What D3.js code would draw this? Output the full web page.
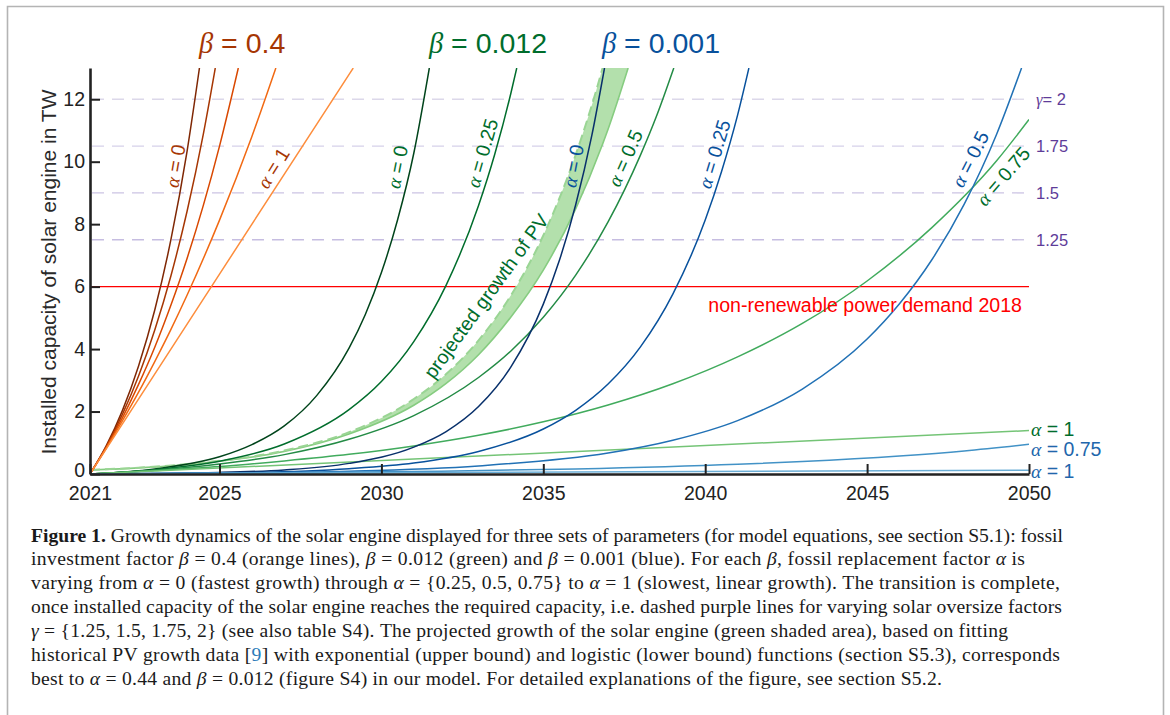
<!DOCTYPE html>
<html>
<head>
<meta charset="utf-8">
<title>Solar engine growth</title>
<script src="https://cdn.jsdelivr.net/npm/d3@7"></script>
<style>
  body { margin: 0; background: #fff; }
  svg text { font-family: "Liberation Sans", Arial, sans-serif; }
  .greek { font-family: "Liberation Serif", "DejaVu Serif", serif; font-style: italic; }
  .caption text { font-family: "Liberation Serif", "Times New Roman", serif; fill: #1a1a1a; }
</style>
</head>
<body>
<div id="vis"></div>
<script>
// curves: [year, installed capacity in TW]
// beta = 0.4 (orange)
const b04a0   = [[2021,0],[2021.5,0.90],[2022,2.03],[2022.5,3.46],[2023,5.25],[2023.5,7.51],[2024,10.35],[2024.38,13]];
const b04a025 = [[2021,0],[2021.5,0.87],[2022,1.91],[2022.5,3.14],[2023,4.61],[2023.5,6.35],[2024,8.42],[2024.5,10.88],[2024.87,13]];
const b04a05  = [[2021,0],[2021.5,0.85],[2022,1.80],[2022.5,2.87],[2023,4.06],[2023.5,5.41],[2024,6.91],[2024.5,8.60],[2025,10.50],[2025.58,13]];
const b04a075 = [[2021,0],[2021.5,0.82],[2022,1.70],[2022.5,2.62],[2023,3.60],[2023.5,4.63],[2024,5.73],[2025,8.13],[2026,10.81],[2026.74,13]];
const b04a1   = [[2021,0],[2025,6.4],[2029.13,13]];
// beta = 0.012 (green)
const b012a0   = [[2021,0],[2023,0.16],[2025,0.55],[2026,0.94],[2027,1.54],[2028,2.51],[2029,4.03],[2029.5,5.10],[2030,6.45],[2030.5,8.14],[2031,10.27],[2031.48,13]];
const b012a025 = [[2021,0],[2023,0.14],[2025,0.41],[2027,0.96],[2029,2.06],[2030,2.96],[2031,4.24],[2032,6.05],[2033,8.60],[2033.5,10.24],[2034,12.20],[2034.18,13]];
const b012a05  = [[2021,0],[2023,0.12],[2025,0.32],[2027,0.62],[2029,1.11],[2031,1.87],[2033,3.09],[2034,3.94],[2035,5.02],[2036,6.37],[2037,8.07],[2038,10.21],[2038.5,11.47],[2039.03,13]];
const b012a075 = [[2021,0],[2023,0.11],[2025,0.24],[2027,0.42],[2029,0.63],[2031,0.90],[2033,1.24],[2035,1.67],[2037,2.21],[2039,2.89],[2041,3.75],[2043,4.82],[2045,6.18],[2047,7.89],[2049,10.03],[2050,11.35]];
const b012a1   = [[2021,0],[2050,1.39]];
// beta = 0.001 (blue)
const b001a0   = [[2021,0],[2025,0.05],[2027,0.13],[2029,0.34],[2031,0.86],[2032,1.36],[2033,2.16],[2034,3.43],[2035,5.44],[2035.5,6.85],[2036,8.62],[2036.5,10.85],[2036.89,13]];
const b001a025 = [[2021,0],[2025,0.03],[2029,0.17],[2031,0.35],[2033,0.72],[2035,1.44],[2036,2.04],[2037,2.88],[2038,4.07],[2039,5.76],[2040,8.13],[2040.5,9.67],[2041,11.49],[2041.35,13]];
const b001a05  = [[2021,0],[2025,0.03],[2029,0.09],[2033,0.26],[2037,0.67],[2039,1.08],[2041,1.71],[2043,2.72],[2045,4.32],[2046,5.45],[2047,6.86],[2048,8.64],[2049,10.88],[2049.77,13]];
const b001a075 = [[2021,0],[2026,0.03],[2031,0.08],[2036,0.16],[2041,0.31],[2043,0.40],[2046,0.58],[2048,0.74],[2050,0.95]];
const b001a1   = [[2021,0],[2050,0.12]];

// projected PV growth band
const pvYears = [2021, 2024, 2027, 2029, 2031, 2032, 2033, 2034, 2035, 2036, 2036.83, 2037, 2037.62];
const pvUpper = [0.13, 0.32, 0.75, 1.34, 2.40, 3.20, 4.28, 5.72, 7.64, 10.22, 13, 13.66, 16.31];
const pvLower = [0.13, 0.30, 0.72, 1.28, 2.20, 2.90, 3.82, 5.03, 6.53, 8.49, 10.56, 11.04, 13];

// required capacity levels (gamma) and demand
const gammaLabels = ["2", "1.75", "1.5", "1.25"];
const gammaLevels = [12, 10.5, 9, 7.5];
const demand2018 = 6;

const xTicks = [2021, 2025, 2030, 2035, 2040, 2045, 2050];
const yTicks = [0, 2, 4, 6, 8, 10, 12];

const width = 1170, height = 715;
const svg = d3.select('#vis').append('svg').attr('width', width).attr('height', height);
svg.append('rect').attr('width', width).attr('height', height).attr('fill', '#fff');

// frame around figure
svg.append('path').attr('d', 'M7.5,715V6.5H1163.5V715').attr('fill', 'none')
  .attr('stroke', '#b4b4b4').attr('stroke-width', 1.6);

const x = d3.scaleLinear().domain([2021, 2050]).range([90, 1029]);
const y = d3.scaleLinear().domain([0, 13]).range([474, 68]);

svg.append('clipPath').attr('id', 'plot').append('rect')
  .attr('x', 90).attr('y', 68).attr('width', 939).attr('height', 406);

// gamma dashed lines
const gammaColors = ['#dcd8ea', '#d6d1ea', '#cbc3e4', '#c6bde1'];
svg.append('g').selectAll('line').data(gammaLevels).join('line')
  .attr('x1', x(2021) + 2).attr('x2', x(2050))
  .attr('y1', d => y(d)).attr('y2', d => y(d))
  .attr('stroke', (d, i) => gammaColors[i]).attr('stroke-width', 1.3)
  .attr('stroke-dasharray', '12,8');

// demand line
svg.append('line').attr('x1', x(2021)).attr('x2', x(2050))
  .attr('y1', y(demand2018)).attr('y2', y(demand2018))
  .attr('stroke', '#ff0000').attr('stroke-width', 1.4);

// projected band
const band = pvYears.map((yr, i) => ({ yr: yr, lo: pvLower[i], hi: pvUpper[i] }));
const plot = svg.append('g').attr('clip-path', 'url(#plot)');
plot.append('path').datum(band)
  .attr('d', d3.area().x(d => x(d.yr)).y0(d => y(d.lo)).y1(d => y(d.hi)).curve(d3.curveMonotoneX))
  .attr('fill', '#b3e0ac');
plot.append('path').datum(band)
  .attr('d', d3.line().x(d => x(d.yr)).y(d => y(d.lo)).curve(d3.curveMonotoneX))
  .attr('fill', 'none').attr('stroke', '#86cc80').attr('stroke-width', 1.6);
plot.append('path').datum(band)
  .attr('d', d3.line().x(d => x(d.yr)).y(d => y(d.hi)).curve(d3.curveMonotoneX))
  .attr('fill', 'none').attr('stroke', '#9ad594').attr('stroke-width', 2)
  .attr('stroke-dasharray', '10,5');

const series = [
  { data: b04a0, color: '#7f2704' }, { data: b04a025, color: '#a63603' },
  { data: b04a05, color: '#d94801' }, { data: b04a075, color: '#f16913' },
  { data: b04a1, color: '#fd8d3c' },
  { data: b012a0, color: '#00441b' }, { data: b012a025, color: '#006d2c' },
  { data: b012a05, color: '#238b45' }, { data: b012a075, color: '#41ab5d' },
  { data: b012a1, color: '#74c476' },
  { data: b001a0, color: '#08306b' }, { data: b001a025, color: '#08519c' },
  { data: b001a05, color: '#2171b5' }, { data: b001a075, color: '#4292c6' },
  { data: b001a1, color: '#6baed6' }
];
const line = d3.line().x(d => x(d[0])).y(d => y(d[1])).curve(d3.curveMonotoneX);
plot.selectAll('path.curve').data(series).join('path').attr('class', 'curve')
  .attr('d', d => line(d.data)).attr('fill', 'none')
  .attr('stroke', d => d.color).attr('stroke-width', 1.5);

// axes
const yAxis = svg.append('g').attr('transform', 'translate(90,0)')
  .call(d3.axisLeft(y).tickValues(yTicks).tickSizeInner(-10).tickSizeOuter(0).tickPadding(5));
const xAxis = svg.append('g').attr('transform', 'translate(0,474)')
  .call(d3.axisBottom(x).tickValues(xTicks).tickFormat(d3.format('d')).tickSizeInner(-10).tickSizeOuter(0).tickPadding(12));
[yAxis, xAxis].forEach(a => {
  a.select('.domain').attr('stroke', '#222').attr('stroke-width', 2.6);
  a.selectAll('.tick line').attr('stroke', '#222').attr('stroke-width', 2);
  a.selectAll('.tick text').attr('font-size', 19.5).attr('fill', '#222')
    .attr('font-family', '"Liberation Sans", Arial, sans-serif');
});
// lift the zero label a little so it clears the 2021 label
yAxis.selectAll('.tick text').filter(d => d === 0).attr('dy', '0.12em');

svg.append('text').attr('transform', 'translate(56,272) rotate(-90)')
  .attr('text-anchor', 'middle').attr('font-size', 21).attr('fill', '#2a2a2a')
  .text('Installed capacity of solar engine in TW');

// label helper: greek letter (italic serif) followed by plain text
function label(px, py, angle, greek, rest, size, color, anchor) {
  const t = svg.append('text')
    .attr('transform', `translate(${px},${py}) rotate(${angle})`)
    .attr('text-anchor', anchor || 'middle').attr('dominant-baseline', 'central')
    .attr('font-size', size).attr('fill', color);
  t.append('tspan').attr('class', 'greek').text(greek);
  t.append('tspan').text(rest);
  return t;
}

// beta headers
label(199, 43, 0, 'β', ' = 0.4', 28.5, '#a63603', 'start');
label(429, 43, 0, 'β', ' = 0.012', 28.5, '#006d2c', 'start');
label(602, 43, 0, 'β', ' = 0.001', 28.5, '#08519c', 'start');

// alpha labels along curves
label(175, 166, -80, 'α', ' = 0', 19.5, '#a63603');
label(273, 168, -58, 'α', ' = 1', 19.5, '#a63603');
label(397, 167, -79, 'α', ' = 0', 19.5, '#006d2c');
label(482, 153, -74, 'α', ' = 0.25', 19.5, '#006d2c');
label(573, 166, -79, 'α', ' = 0', 19.5, '#08519c');
label(625, 158, -66, 'α', ' = 0.5', 19.5, '#006d2c');
label(714, 154, -73, 'α', ' = 0.25', 19.5, '#08519c');
label(970, 159, -63, 'α', ' = 0.5', 19.5, '#08519c');
label(1003, 176, -49, 'α', ' = 0.75', 19.5, '#006d2c');

svg.append('text').attr('transform', 'translate(486,296) rotate(-54)')
  .attr('text-anchor', 'middle').attr('dominant-baseline', 'central')
  .attr('font-size', 19.5).attr('fill', '#006d2c').text('projected growth of PV');

// end-of-line labels
label(1031, 429, 0, 'α', ' = 1', 19.5, '#006d2c', 'start');
label(1031, 449, 0, 'α', ' = 0.75', 19.5, '#2166ac', 'start');
label(1031, 471, 0, 'α', ' = 1', 19.5, '#2166ac', 'start');

// gamma labels
gammaLevels.forEach((g, i) => {
  if (i === 0) label(1036, y(g), 0, 'γ', '= ' + gammaLabels[i], 16.5, '#5e3c99', 'start');
  else svg.append('text').attr('x', 1036).attr('y', y(g)).attr('dominant-baseline', 'central')
    .attr('font-size', 16.5).attr('fill', '#5e3c99').text(gammaLabels[i]);
});

svg.append('text').attr('x', 1022).attr('y', 312).attr('text-anchor', 'end')
  .attr('font-size', 19.6).attr('fill', '#ff0000').text('non-renewable power demand 2018');

// caption
const captionLines = [
  [['Figure 1.', 'b'], [' Growth dynamics of the solar engine displayed for three sets of parameters (for model equations, see section S5.1): fossil', '']],
  [['investment factor ', ''], ['β', 'i'], [' = 0.4 (orange lines), ', ''], ['β', 'i'], [' = 0.012 (green) and ', ''], ['β', 'i'], [' = 0.001 (blue). For each ', ''], ['β', 'i'], [', fossil replacement factor ', ''], ['α', 'i'], [' is', '']],
  [['varying from ', ''], ['α', 'i'], [' = 0 (fastest growth) through ', ''], ['α', 'i'], [' = {0.25, 0.5, 0.75} to ', ''], ['α', 'i'], [' = 1 (slowest, linear growth). The transition is complete,', '']],
  [['once installed capacity of the solar engine reaches the required capacity, i.e. dashed purple lines for varying solar oversize factors', '']],
  [['γ', 'i'], [' = {1.25, 1.5, 1.75, 2} (see also table S4). The projected growth of the solar engine (green shaded area), based on fitting', '']],
  [['historical PV growth data [', ''], ['9', 'l'], ['] with exponential (upper bound) and logistic (lower bound) functions (section S5.3), corresponds', '']],
  [['best to ', ''], ['α', 'i'], [' = 0.44 and ', ''], ['β', 'i'], [' = 0.012 (figure S4) in our model. For detailed explanations of the figure, see section S5.2.', '']]
];
const captionEnds = [1063, 1025, 1060, 1062, 1008, 1060, 942];
const cap = svg.append('g').attr('class', 'caption');
const capTexts = captionLines.map((segs, i) => {
  const t = cap.append('text').attr('x', 31).attr('y', 541.5 + i * 23.85).attr('font-size', 18);
  segs.forEach(s => {
    const ts = t.append('tspan').text(s[0]);
    if (s[1] === 'b') ts.attr('font-weight', 'bold');
    if (s[1] === 'i') ts.attr('font-style', 'italic');
    if (s[1] === 'l') ts.attr('fill', '#2b7bb9');
  });
  return t;
});
const natural = capTexts[0].node().getComputedTextLength();
const fs = 18 * (captionEnds[0] - 31) / natural;
capTexts.forEach((t, i) => {
  t.attr('font-size', fs.toFixed(2));
  t.attr('textLength', captionEnds[i] - 31).attr('lengthAdjust', 'spacing');
});
</script>
</body>
</html>
